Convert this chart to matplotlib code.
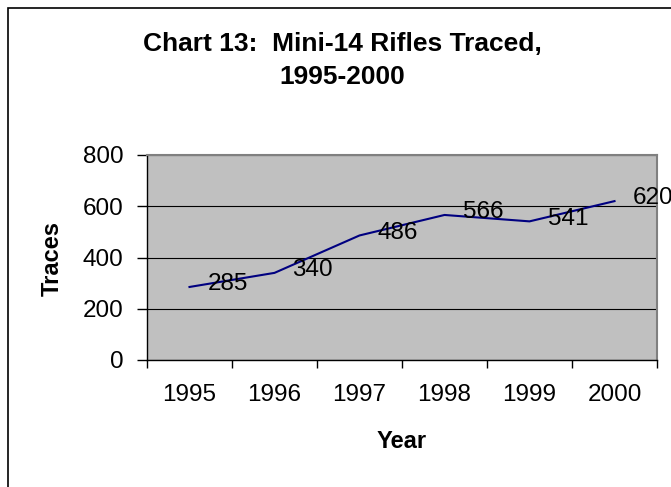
import matplotlib
matplotlib.use("Agg")
import matplotlib.pyplot as plt
from matplotlib.patches import Rectangle

years = ["1995", "1996", "1997", "1998", "1999", "2000"]
traces = [285, 340, 486, 566, 541, 620]
yticks = [0, 200, 400, 600, 800]

W, H = 671, 487
DPI = 100
fig = plt.figure(figsize=(W / DPI, H / DPI), dpi=DPI)
fig.patch.set_facecolor("white")
plt.rcParams["font.family"] = ["Liberation Sans", "DejaVu Sans"]

# outer chart border (cropped at right and bottom)
fig.patches.append(Rectangle((8 / W, -0.1), 1.2, 1 - 8 / H + 0.1,
                             transform=fig.transFigure, fill=False,
                             edgecolor="black", linewidth=1.2))

L, R, T, B = 147, 657, 155, 360
ax = fig.add_axes([L / W, 1 - B / H, (R - L) / W, (B - T) / H])
ax.set_facecolor("#C0C0C0")

x = list(range(len(years)))
ax.plot(x, traces, color="#000080", linewidth=1.5, zorder=3)

for xi, v in zip(x, traces):
    ax.annotate(str(v), (xi, v), xytext=(13, 2), textcoords="offset points",
                ha="left", va="center", fontsize=17.5, color="black",
                annotation_clip=False, zorder=4)

ax.set_xlim(-0.5, len(years) - 0.5)
ax.set_ylim(0, 800)
ax.set_yticks(yticks)
ax.set_yticklabels([str(t) for t in yticks])
ax.yaxis.grid(True, color="black", linewidth=0.8)
ax.set_axisbelow(True)

ax.set_xticks(x)
ax.set_xticklabels(years)
ax.set_xticks([i - 0.5 for i in range(len(years) + 1)], minor=True)
ax.tick_params(axis="x", which="major", length=0, pad=17, labelsize=17.5)
ax.tick_params(axis="x", which="minor", length=6, width=1, direction="out", color="black")
ax.tick_params(axis="y", which="major", length=7, width=1, direction="out", pad=10,
               labelsize=17.5, color="black")

for s in ["left", "bottom"]:
    ax.spines[s].set_color("black")
    ax.spines[s].set_linewidth(1.0)
for s in ["top", "right"]:
    ax.spines[s].set_color("#808080")
    ax.spines[s].set_linewidth(1.5)

fig.text(342 / W, 1 - 44 / H, "Chart 13:  Mini-14 Rifles Traced,", ha="center",
         va="center", fontsize=19, fontweight="bold")
fig.text(342 / W, 1 - 77 / H, "1995-2000", ha="center", va="center",
         fontsize=19, fontweight="bold")
fig.text(52 / W, 1 - 258 / H, "Traces", rotation=90, ha="center", va="center",
         fontsize=17, fontweight="bold")
fig.text(402 / W, 1 - 442 / H, "Year", ha="center", va="center",
         fontsize=17, fontweight="bold")

fig.savefig("out.png", dpi=DPI)
